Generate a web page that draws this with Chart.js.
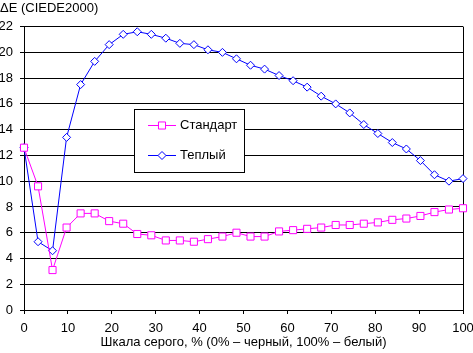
<!DOCTYPE html>
<html>
<head>
<meta charset="utf-8">
<script src="https://cdn.jsdelivr.net/npm/chart.js@4"></script>
<style>
  body { margin: 0; background: #fff; }
</style>
</head>
<body>
<canvas id="deChart" width="473" height="353"></canvas>
<script>
// gray levels in %, 32 steps
const grayLevels = [0, 3.2, 6.5, 9.7, 12.9, 16.1, 19.4, 22.6, 25.8, 29.0, 32.3, 35.5, 38.7, 41.9, 45.2, 48.4,
  51.6, 54.8, 58.1, 61.3, 64.5, 67.7, 71.0, 74.2, 77.4, 80.6, 83.9, 87.1, 90.3, 93.5, 96.8, 100];
const standardValues = [12.6, 9.6, 3.1, 6.4, 7.5, 7.5, 6.9, 6.7, 5.9, 5.8, 5.4, 5.4, 5.3, 5.5, 5.7, 6.0,
  5.7, 5.7, 6.1, 6.2, 6.3, 6.4, 6.6, 6.6, 6.7, 6.8, 7.0, 7.1, 7.3, 7.6, 7.8, 7.9];
const warmValues = [12.6, 5.3, 4.6, 13.4, 17.5, 19.3, 20.6, 21.4, 21.6, 21.4, 21.1, 20.7, 20.6, 20.2, 20.0, 19.5,
  19.0, 18.7, 18.2, 17.8, 17.3, 16.6, 16.0, 15.3, 14.4, 13.7, 13.0, 12.5, 11.6, 10.5, 10.0, 10.2];
const seriesNames = ['Стандарт', 'Теплый'];
const xTicks = [0, 10, 20, 30, 40, 50, 60, 70, 80, 90, 100];

Chart.defaults.font.family = 'Arial, "Liberation Sans", sans-serif';
Chart.defaults.font.size = 13;
Chart.defaults.color = '#000';

const toPoints = (vals) => vals.map((v, i) => ({ x: grayLevels[i], y: v }));

// box legend inside the plot + right frame line
const boxLegend = {
  id: 'boxLegend',
  beforeDatasetsDraw(chart) {
    const ctx = chart.ctx;
    const a = chart.chartArea;
    ctx.save();
    ctx.strokeStyle = '#000';
    ctx.lineWidth = 1;
    ctx.beginPath();
    ctx.moveTo(Math.round(a.right) + 0.5, a.top);
    ctx.lineTo(Math.round(a.right) + 0.5, a.bottom);
    ctx.stroke();
    ctx.restore();
  },
  afterDraw(chart) {
    const ctx = chart.ctx;
    ctx.save();
    ctx.strokeStyle = '#000';
    ctx.lineWidth = 1;
    ctx.fillStyle = '#fff';
    ctx.fillRect(134.5, 109.5, 110, 63);
    ctx.strokeRect(134.5, 109.5, 110, 63);

    chart.data.datasets.forEach((ds, i) => {
      const y = 125.5 + i * 30;
      ctx.strokeStyle = ds.borderColor;
      ctx.beginPath();
      ctx.moveTo(148, y);
      ctx.lineTo(176, y);
      ctx.stroke();
      ctx.fillStyle = '#fff';
      Chart.helpers.drawPoint(ctx, {
        pointStyle: ds.pointStyle,
        radius: ds.pointRadius,
        borderWidth: 1
      }, 162, y);
      ctx.fillStyle = '#000';
      ctx.font = '13px Arial, "Liberation Sans", sans-serif';
      ctx.textBaseline = 'middle';
      ctx.fillText(ds.label, 180, y);
    });
    ctx.restore();
  }
};

new Chart(document.getElementById('deChart'), {
  type: 'line',
  data: {
    datasets: [{
      label: seriesNames[0],
      data: toPoints(standardValues),
      borderColor: '#ff00ff',
      backgroundColor: '#fff',
      borderWidth: 1,
      pointStyle: 'rect',
      pointRadius: 5,
      pointBorderWidth: 1,
      tension: 0,
      clip: false
    }, {
      label: seriesNames[1],
      data: toPoints(warmValues),
      borderColor: '#0000ff',
      backgroundColor: '#fff',
      borderWidth: 1,
      pointStyle: 'rectRot',
      pointRadius: 4,
      pointBorderWidth: 1,
      tension: 0,
      clip: false
    }]
  },
  options: {
    responsive: false,
    animation: false,
    layout: { padding: { left: 0, right: 10, top: 0, bottom: 0 } },
    plugins: {
      legend: { display: false },
      tooltip: { enabled: false },
      title: {
        display: true,
        text: 'ΔE (CIEDE2000)',
        align: 'start',
        color: '#000',
        font: { size: 13, weight: 'normal' },
        padding: { top: 1, bottom: 10 }
      }
    },
    scales: {
      x: {
        type: 'linear',
        min: 0,
        max: 100,
        afterBuildTicks: (s) => { s.ticks = xTicks.map(v => ({ value: v })); },
        ticks: { color: '#000', padding: 7, maxRotation: 0 },
        grid: { drawOnChartArea: false, color: '#000', tickLength: 4, tickColor: '#000' },
        border: { color: '#000' },
        title: {
          display: true,
          text: 'Шкала серого, % (0% – черный, 100% – белый)',
          color: '#000',
          padding: { top: 0, bottom: 3 }
        },
        afterFit: (s) => { s.height = 43; s.paddingRight = 0; s.paddingLeft = 0; }
      },
      y: {
        min: 0,
        max: 22,
        ticks: { stepSize: 2, color: '#000', padding: 7 },
        grid: { color: '#000', tickLength: 4, tickColor: '#000' },
        border: { color: '#000' },
        afterFit: (s) => { s.width = 24; }
      }
    }
  },
  plugins: [boxLegend]
});
</script>
</body>
</html>
